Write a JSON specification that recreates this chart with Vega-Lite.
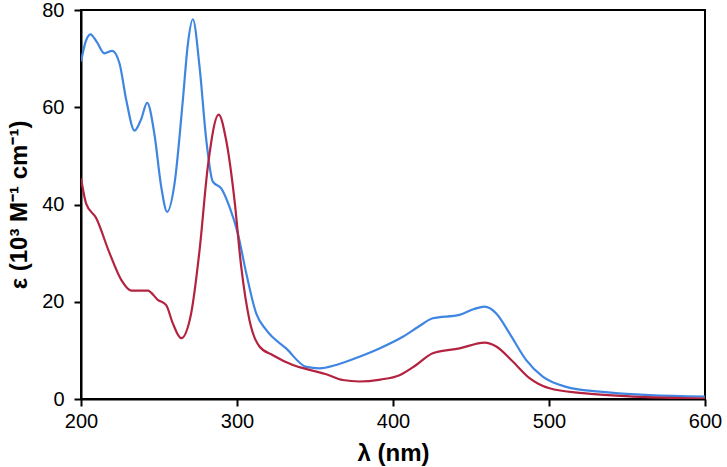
{
  "$schema": "https://vega.github.io/schema/vega-lite/v6.json",
  "width": 624,
  "height": 389,
  "autosize": {"type": "none"},
  "padding": {"left": 81, "top": 10, "right": 22, "bottom": 68},
  "background": "white",
  "config": {
    "view": {"stroke": "#000", "strokeWidth": 2},
    "font": "Liberation Sans",
    "axis": {
      "grid": false,
      "labelFlush": false,
      "domainColor": "#000",
      "domainWidth": 2,
      "tickColor": "#000",
      "tickWidth": 2,
      "tickSize": 7,
      "labelFont": "Liberation Sans",
      "labelFontSize": 20,
      "labelColor": "#000",
      "titleFont": "Liberation Sans",
      "titleFontSize": 24,
      "titleFontWeight": "bold",
      "titleColor": "#000"
    }
  },
  "data": {
    "values": [
      {"s": "A", "wl": 200, "eps": 69.4},
      {"s": "A", "wl": 203, "eps": 73.5},
      {"s": "A", "wl": 206, "eps": 75.0},
      {"s": "A", "wl": 210, "eps": 73.5},
      {"s": "A", "wl": 215, "eps": 71.1},
      {"s": "A", "wl": 220, "eps": 71.6},
      {"s": "A", "wl": 224.7, "eps": 69.0},
      {"s": "A", "wl": 229, "eps": 61.5},
      {"s": "A", "wl": 234.3, "eps": 55.2},
      {"s": "A", "wl": 238.5, "eps": 57.5},
      {"s": "A", "wl": 242.4, "eps": 60.9},
      {"s": "A", "wl": 247, "eps": 54.6},
      {"s": "A", "wl": 251.4, "eps": 43.7},
      {"s": "A", "wl": 255.2, "eps": 38.5},
      {"s": "A", "wl": 260, "eps": 44.4},
      {"s": "A", "wl": 265.3, "eps": 61.5},
      {"s": "A", "wl": 268.5, "eps": 73.0},
      {"s": "A", "wl": 271.7, "eps": 78.1},
      {"s": "A", "wl": 276, "eps": 68.3},
      {"s": "A", "wl": 280.3, "eps": 53.3},
      {"s": "A", "wl": 284.5, "eps": 44.7},
      {"s": "A", "wl": 289.9, "eps": 43.3},
      {"s": "A", "wl": 295.2, "eps": 39.5},
      {"s": "A", "wl": 300.5, "eps": 34.1},
      {"s": "A", "wl": 305.9, "eps": 25.9},
      {"s": "A", "wl": 312.3, "eps": 17.6},
      {"s": "A", "wl": 318.7, "eps": 14.2},
      {"s": "A", "wl": 331.5, "eps": 10.4},
      {"s": "A", "wl": 344.4, "eps": 6.6},
      {"s": "A", "wl": 352.9, "eps": 6.3},
      {"s": "A", "wl": 363.6, "eps": 7.0},
      {"s": "A", "wl": 378.5, "eps": 8.7},
      {"s": "A", "wl": 392, "eps": 10.5},
      {"s": "A", "wl": 406.3, "eps": 12.8},
      {"s": "A", "wl": 416, "eps": 14.8},
      {"s": "A", "wl": 425.5, "eps": 16.6},
      {"s": "A", "wl": 442.6, "eps": 17.3},
      {"s": "A", "wl": 452, "eps": 18.5},
      {"s": "A", "wl": 458.7, "eps": 19.0},
      {"s": "A", "wl": 466.2, "eps": 17.6},
      {"s": "A", "wl": 474.7, "eps": 13.5},
      {"s": "A", "wl": 485.4, "eps": 8.0},
      {"s": "A", "wl": 496, "eps": 4.6},
      {"s": "A", "wl": 511, "eps": 2.5},
      {"s": "A", "wl": 532.4, "eps": 1.5},
      {"s": "A", "wl": 564.4, "eps": 0.8},
      {"s": "A", "wl": 600, "eps": 0.5},
      {"s": "B", "wl": 200, "eps": 45.4},
      {"s": "B", "wl": 203.3, "eps": 40.2},
      {"s": "B", "wl": 209.7, "eps": 37.2},
      {"s": "B", "wl": 218.3, "eps": 30.0},
      {"s": "B", "wl": 225.8, "eps": 24.5},
      {"s": "B", "wl": 232.2, "eps": 22.3},
      {"s": "B", "wl": 242.8, "eps": 22.3},
      {"s": "B", "wl": 249.2, "eps": 20.4},
      {"s": "B", "wl": 254.6, "eps": 19.3},
      {"s": "B", "wl": 258.8, "eps": 15.6},
      {"s": "B", "wl": 264.2, "eps": 12.5},
      {"s": "B", "wl": 270.6, "eps": 17.6},
      {"s": "B", "wl": 276, "eps": 30.6},
      {"s": "B", "wl": 281.3, "eps": 47.8},
      {"s": "B", "wl": 288.3, "eps": 58.5},
      {"s": "B", "wl": 293, "eps": 53.3},
      {"s": "B", "wl": 298.4, "eps": 40.9},
      {"s": "B", "wl": 302.7, "eps": 27.2},
      {"s": "B", "wl": 308, "eps": 16.2},
      {"s": "B", "wl": 314.4, "eps": 10.8},
      {"s": "B", "wl": 323, "eps": 9.0},
      {"s": "B", "wl": 335.8, "eps": 7.0},
      {"s": "B", "wl": 346.5, "eps": 6.0},
      {"s": "B", "wl": 357.2, "eps": 5.1},
      {"s": "B", "wl": 367.8, "eps": 3.9},
      {"s": "B", "wl": 378.5, "eps": 3.6},
      {"s": "B", "wl": 392, "eps": 4.0},
      {"s": "B", "wl": 404.2, "eps": 4.9},
      {"s": "B", "wl": 414.9, "eps": 7.0},
      {"s": "B", "wl": 425.5, "eps": 9.4},
      {"s": "B", "wl": 442.6, "eps": 10.4},
      {"s": "B", "wl": 458.7, "eps": 11.6},
      {"s": "B", "wl": 466.2, "eps": 10.8},
      {"s": "B", "wl": 476.8, "eps": 7.7},
      {"s": "B", "wl": 487.5, "eps": 4.3},
      {"s": "B", "wl": 500.3, "eps": 2.2},
      {"s": "B", "wl": 521.7, "eps": 1.2},
      {"s": "B", "wl": 553.7, "eps": 0.5},
      {"s": "B", "wl": 600, "eps": 0.1}
    ]
  },
  "mark": {"type": "line", "interpolate": "monotone", "strokeWidth": 2.2, "clip": true},
  "encoding": {
    "x": {
      "field": "wl", "type": "quantitative",
      "scale": {"domain": [200, 600], "nice": false},
      "axis": {"values": [200, 300, 400, 500, 600], "title": "λ (nm)", "labelPadding": 5, "titlePadding": 10}
    },
    "y": {
      "field": "eps", "type": "quantitative",
      "scale": {"domain": [0, 80], "nice": false},
      "axis": {"values": [0, 20, 40, 60, 80], "title": "ε (10³ M⁻¹ cm⁻¹)", "labelPadding": 10, "titlePadding": 10}
    },
    "color": {
      "field": "s", "type": "nominal",
      "scale": {"domain": ["A", "B"], "range": ["#3F86E2", "#B3233F"]},
      "legend": null
    }
  }
}
